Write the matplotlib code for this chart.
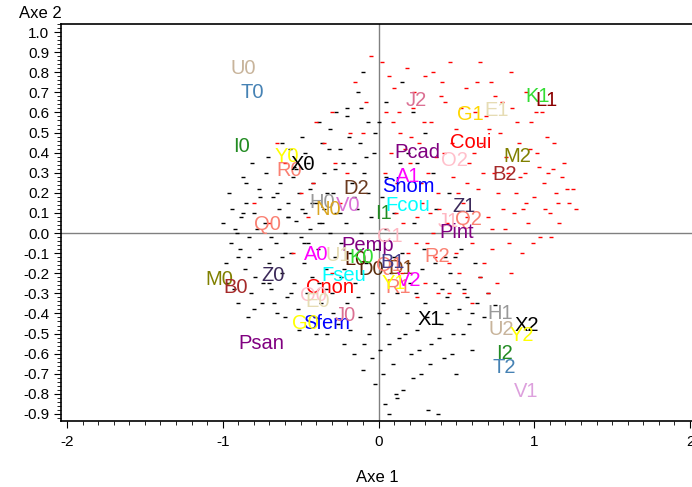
import numpy as np
import matplotlib.pyplot as plt
from matplotlib.ticker import MultipleLocator

plt.rcParams['font.family'] = ['Liberation Sans', 'DejaVu Sans']

### modalites (label, axe 1, axe 2, couleur)
names = ["U0", "T0", "I0", "Y0", "R0", "X0", "D2", "H0", "N0", "V0", "I1", "Q0",
         "Shom", "A1", "Fcou", "Pcad", "J2", "G1", "E1", "K1", "L1", "Coui", "O2", "M2",
         "B2", "Z1", "J1", "Q2", "Pint", "R2", "D1", "D0", "Q1", "R1", "V2", "Y1",
         "Pemp", "B1", "C1", "L0", "K0", "A0", "U1", "Fseu", "Cnon", "O0", "E0", "Z0",
         "M0", "B0", "Sfem", "G0", "J0", "Psan", "X1", "H1", "U2", "X2", "Y2", "I2",
         "T2", "V1"]
ax1 = [-0.87, -0.81, -0.88, -0.59, -0.575, -0.485, -0.145, -0.36, -0.32, -0.195, 0.03, -0.71,
       0.19, 0.19, 0.19, 0.25, 0.24, 0.59, 0.76, 1.02, 1.08, 0.59, 0.49, 0.89,
       0.81, 0.55, 0.45, 0.575, 0.50, 0.375, 0.145, -0.05, 0.07, 0.125, 0.20, 0.10,
       -0.07, 0.09, 0.07, -0.15, -0.11, -0.40, -0.26, -0.22, -0.31, -0.42, -0.39, -0.68,
       -1.02, -0.915, -0.33, -0.47, -0.215, -0.75, 0.33, 0.78, 0.79, 0.955, 0.92, 0.81,
       0.81, 0.95]
ax2 = [0.82, 0.70, 0.43, 0.38, 0.31, 0.34, 0.22, 0.15, 0.115, 0.135, 0.095, 0.045,
       0.23, 0.28, 0.135, 0.40, 0.66, 0.59, 0.61, 0.68, 0.66, 0.45, 0.36, 0.38,
       0.29, 0.13, 0.055, 0.065, 0.005, -0.115, -0.175, -0.18, -0.16, -0.27, -0.235, -0.25,
       -0.06, -0.145, -0.015, -0.13, -0.12, -0.105, -0.11, -0.21, -0.27, -0.31, -0.34, -0.21,
       -0.23, -0.27, -0.45, -0.45, -0.41, -0.55, -0.43, -0.40, -0.48, -0.46, -0.51, -0.60,
       -0.67, -0.79]
cols = ["#c8b49b", "#4682b4", "#228b22", "#ffff00", "#fa8072", "#000000", "#6b3a1f", "#999999", "#daa520", "#da70d6", "#228b22", "#fa8072",
        "#0000ff", "#ff00ff", "#00ffff", "#800080", "#db7093", "#ffd700", "#e6dcb4", "#33dd33", "#8b0000", "#ff0000", "#ffc0cb", "#808000",
        "#a52a2a", "#3c2a5a", "#ffb6c1", "#fa8072", "#800080", "#fa8072", "#8b4513", "#5a2d0c", "#fa8072", "#fa8072", "#ff00ff", "#ffff00",
        "#800080", "#483d8b", "#ffb6c1", "#5a1a00", "#33dd33", "#ff00ff", "#e6dcb4", "#00ffff", "#ff0000", "#ffc0cb", "#e6dcb4", "#3c2a5a",
        "#808000", "#a52a2a", "#0000ff", "#ffff00", "#db7093", "#800080", "#000000", "#999999", "#c8b49b", "#000000", "#ffff00", "#228b22",
        "#4682b4", "#dda0dd"]

### individus (nuage de points), lus a l'oeil
blk_x = [-0.95, -0.92, -0.9, -0.88, -0.86, -0.85, -0.83, -0.82, -0.8, -0.79, -0.77, -0.76, -0.75, -0.73, -0.72, -0.7,
         -0.69, -0.68, -0.66, -0.65, -0.64, -0.63, -0.62, -0.6, -0.59, -0.58, -0.57, -0.56, -0.55, -0.54, -0.53, -0.52,
         -0.51, -0.5, -0.49, -0.48, -0.47, -0.46, -0.45, -0.44, -0.43, -0.42, -0.41, -0.4, -0.39, -0.38, -0.37, -0.36,
         -0.35, -0.34, -0.33, -0.32, -0.31, -0.3, -0.29, -0.28, -0.27, -0.26, -0.25, -0.24, -0.23, -0.22, -0.21, -0.2,
         -0.19, -0.18, -0.17, -0.16, -0.15, -0.14, -0.13, -0.12, -0.11, -0.1, -0.09, -0.08, -0.07, -0.06, -0.05, -0.04,
         -0.03, -0.02, -0.01, 0.01, 0.02, 0.03, 0.04, 0.05, 0.06, 0.08, 0.09, 0.1, 0.12, 0.13, 0.15, 0.16,
         0.18, 0.2, 0.21, 0.23, 0.25, 0.27, 0.28, 0.3, 0.32, 0.34, 0.36, 0.38, 0.4, 0.42, 0.44, 0.46,
         0.48, 0.5, 0.52, 0.55, 0.58, 0.6, 0.63, 0.65, 0.68, 0.7, 0.75, -0.97, -0.94, -0.9, -0.87, -0.84,
         -0.81, -0.2, -0.1, 0.05, 0.15, 0.3, 0.35, 0.45, 0.25, -0.62, -0.48, -0.35, -0.58, -0.28, -0.44, -0.16,
         -0.7, -0.53, -0.38, -0.24, 0.0, 0.11, 0.22, 0.37, 0.53, 0.62, -0.08, -0.33, -0.12, 0.07, 0.19, 0.43]
blk_y = [-0.05, 0.02, -0.12, 0.08, -0.18, 0.15, -0.02, -0.3, 0.1, -0.22, 0.22, -0.08, -0.35, 0.05, 0.3, -0.15,
         -0.28, 0.18, -0.05, -0.4, 0.12, 0.25, -0.2, 0.0, -0.32, 0.15, 0.42, -0.1, 0.28, -0.25, 0.06, -0.38,
         0.2, -0.02, 0.48, -0.15, 0.1, -0.3, 0.35, 0.02, -0.22, 0.25, -0.42, 0.15, -0.08, 0.55, -0.35, 0.05,
         0.3, -0.18, -0.5, 0.42, 0.0, -0.3, 0.2, -0.12, 0.6, -0.45, 0.1, -0.22, 0.35, -0.55, 0.05, -0.35,
         0.48, -0.1, 0.25, -0.6, -0.25, 0.12, 0.7, -0.42, 0.0, -0.68, 0.3, -0.15, 0.55, -0.5, 0.08, -0.3,
         0.4, -0.75, -0.08, -0.58, 0.18, -0.35, -0.85, 0.02, -0.45, -0.2, -0.65, 0.1, -0.3, -0.52, -0.1, -0.78,
         -0.4, -0.25, -0.6, 0.05, -0.48, -0.7, -0.18, -0.35, -0.88, -0.55, -0.25, -0.9, -0.45, -0.62, -0.32, -0.2,
         -0.5, -0.7, -0.38, -0.28, -0.45, -0.58, -0.35, -0.22, -0.42, -0.3, -0.36, -0.25, 0.12, -0.35, 0.28, -0.42,
         0.35, 0.62, 0.8, 0.65, 0.75, 0.5, 0.3, 0.2, 0.35, -0.12, -0.05, 0.12, 0.08, 0.32, 0.22, 0.18,
         -0.25, 0.32, -0.25, -0.05, 0.55, -0.8, 0.6, 0.12, -0.08, -0.15, 0.38, 0.2, 0.45, -0.9, 0.4, -0.12]
blk2_x = [-1.0, -0.98, -0.96, -0.93, -0.91, -0.89, -0.87, -0.85, -0.83, -0.8,
          -0.78, -0.76, -0.74, -0.71, -0.69, -0.67, -0.65, -0.62, -0.6, -0.58,
          -0.56, -0.54, -0.51, -0.49, -0.47, -0.45, -0.43, -0.4, -0.38, -0.36,
          -0.34, -0.31, -0.29, -0.27, -0.25, -0.22, -0.2, -0.18, -0.16, -0.13,
          -0.11, -0.09, -0.07, -0.04, -0.02, 0.0, 0.03, 0.05, 0.07, 0.1,
          0.12, 0.14, 0.17, 0.19, 0.22, 0.24, 0.26, 0.29, 0.31, 0.33,
          0.36, 0.39, 0.41, 0.44, 0.47, 0.49, 0.51, 0.54, 0.57, 0.6]
blk2_y = [0.05, -0.15, 0.2, -0.28, 0.0, -0.08, 0.1, 0.25, -0.12, -0.38,
          0.02, 0.18, -0.25, 0.38, -0.02, -0.35, 0.2, 0.45, -0.42, 0.08,
          -0.3, 0.33, -0.48, 0.12, 0.4, -0.05, 0.15, -0.5, 0.05, 0.45,
          -0.28, 0.52, -0.4, 0.1, 0.42, -0.18, 0.58, -0.48, 0.35, -0.32,
          0.62, -0.55, 0.2, -0.62, 0.5, -0.4, -0.7, 0.28, -0.55, -0.12,
          -0.82, 0.35, -0.5, -0.15, -0.72, -0.3, -0.58, -0.08, -0.42, -0.65,
          -0.15, -0.52, -0.28, -0.4, -0.6, -0.12, -0.25, -0.5, -0.32, -0.4]
red_x = [0.02, 0.05, 0.08, 0.1, 0.12, 0.14, 0.16, 0.18, 0.2, 0.22, 0.24, 0.26, 0.28, 0.3, 0.32, 0.34,
         0.36, 0.38, 0.4, 0.42, 0.44, 0.46, 0.48, 0.5, 0.52, 0.54, 0.56, 0.58, 0.6, 0.62, 0.64, 0.66,
         0.68, 0.7, 0.72, 0.74, 0.76, 0.78, 0.8, 0.82, 0.84, 0.86, 0.88, 0.9, 0.92, 0.94, 0.96, 0.98,
         1.0, 1.02, 1.04, 1.06, 1.08, 1.1, 1.12, 1.14, 1.16, 1.18, 1.22, 1.25, 0.85, 0.65, 0.75, 0.95,
         1.05, 0.3, 0.45, 0.6, 0.5, 0.25, 0.15, 0.38, 0.7, -0.2, -0.35, -0.5, -0.3, -0.15, -0.6, -0.45,
         -0.1, -0.25, -0.05, -0.4, -0.7, -0.55, -0.3, 0.09, 0.33, 0.57, 0.81, 1.03, 0.41, 0.69, 0.93, 0.21]
red_y = [0.85, 0.6, 0.4, 0.72, 0.25, 0.5, 0.05, 0.82, 0.35, 0.62, -0.05, 0.45, 0.15, 0.78, 0.3, 0.55,
         -0.12, 0.2, 0.68, 0.4, 0.05, 0.85, 0.28, 0.52, -0.2, 0.15, 0.72, 0.35, -0.05, 0.6, 0.22, 0.45,
         -0.15, 0.08, 0.75, 0.3, -0.25, 0.5, 0.12, 0.38, -0.05, 0.62, 0.2, 0.45, -0.1, 0.3, 0.05, 0.55,
         0.18, 0.4, -0.02, 0.25, 0.48, 0.1, 0.32, 0.2, 0.05, 0.28, 0.15, 0.22, 0.8, 0.85, 0.68, 0.7,
         0.6, -0.25, -0.3, -0.35, -0.1, 0.08, -0.2, -0.3, -0.3, 0.3, 0.45, 0.2, 0.6, 0.75, 0.35, 0.08,
         0.5, 0.15, 0.88, 0.55, 0.05, -0.1, -0.2, 0.55, 0.1, 0.25, 0.02, 0.33, 0.75, 0.58, 0.12, 0.48]
red2_x = [0.04, 0.07, 0.11, 0.13, 0.17, 0.19, 0.23, 0.27, 0.29, 0.31,
          0.35, 0.37, 0.39, 0.43, 0.47, 0.51, 0.53, 0.57, 0.61, 0.63,
          0.67, 0.71, 0.73, 0.77, 0.79, 0.83, 0.87, 0.89, 0.91, 0.97,
          0.99, 1.01, 1.07, 1.09, 1.11, 1.13, 1.15, 1.19, 1.21, 1.27,
          0.55, 0.45, 0.35, 0.25, 0.65, 0.73, 0.85, 0.95,
          -0.08, -0.18, -0.28, -0.42, -0.65, -0.8]
red2_y = [0.3, 0.78, 0.1, 0.6, 0.42, -0.1, 0.7, 0.25, 0.55, -0.05,
          0.8, 0.38, 0.12, 0.65, 0.45, 0.2, 0.62, 0.08, 0.4, 0.75,
          0.3, 0.52, -0.08, 0.2, 0.65, 0.3, 0.1, 0.55, 0.28, 0.42,
          -0.05, 0.6, 0.12, 0.3, -0.02, 0.45, 0.15, 0.35, 0.22, 0.12,
          -0.3, -0.15, 0.0, -0.32, -0.22, 0.02, -0.2, 0.15,
          0.65, 0.5, 0.35, 0.25, 0.45, 0.15]

fig = plt.figure(figsize=(6.92, 4.87), dpi=100)
ax = fig.add_axes([61/692, 1-421/487, 631/692, 397/487])

ax.axhline(0, color="#808080", lw=1, zorder=1)
ax.axvline(0, color="#808080", lw=1, zorder=1)
ax.plot(blk_x + blk2_x, blk_y + blk2_y, ls="none", marker="_", ms=2.5, mew=1, color="black", zorder=2)
ax.plot(red_x + red2_x, red_y + red2_y, ls="none", marker="_", ms=2.5, mew=1, color="red", zorder=2)

for n, x, y, c in zip(names, ax1, ax2, cols):
    ax.text(x, y, n, color=c, fontsize=14.5, ha="center", va="center", zorder=3)

ax.set_xlim(-2 - 6/155.75, 2 + 2/155.75)
ax.set_ylim(-0.935, 1.04)
ax.xaxis.set_major_locator(MultipleLocator(1))
ax.xaxis.set_minor_locator(MultipleLocator(0.1))
ax.yaxis.set_major_locator(MultipleLocator(0.1))
ax.yaxis.set_minor_locator(MultipleLocator(0.02))
ax.xaxis.set_major_formatter(plt.FuncFormatter(lambda v, p: "%d" % round(v)))
ax.yaxis.set_major_formatter(plt.FuncFormatter(lambda v, p: "%.1f" % (0.0 if abs(v) < 1e-9 else v)))
ax.tick_params(which="major", length=5, labelsize=11, direction="out")
ax.tick_params(which="minor", length=3, direction="out")
ax.tick_params(axis="x", pad=5)
ax.spines["right"].set_visible(False)
for s in ["left", "bottom", "top"]:
    ax.spines[s].set_linewidth(1.2)

fig.text(40/692, 1-13/487, "Axe 2", fontsize=12, ha="center", va="center")
fig.text(377/692, 1-477/487, "Axe 1", fontsize=12, ha="center", va="center")

fig.savefig("out.png", dpi=100)
